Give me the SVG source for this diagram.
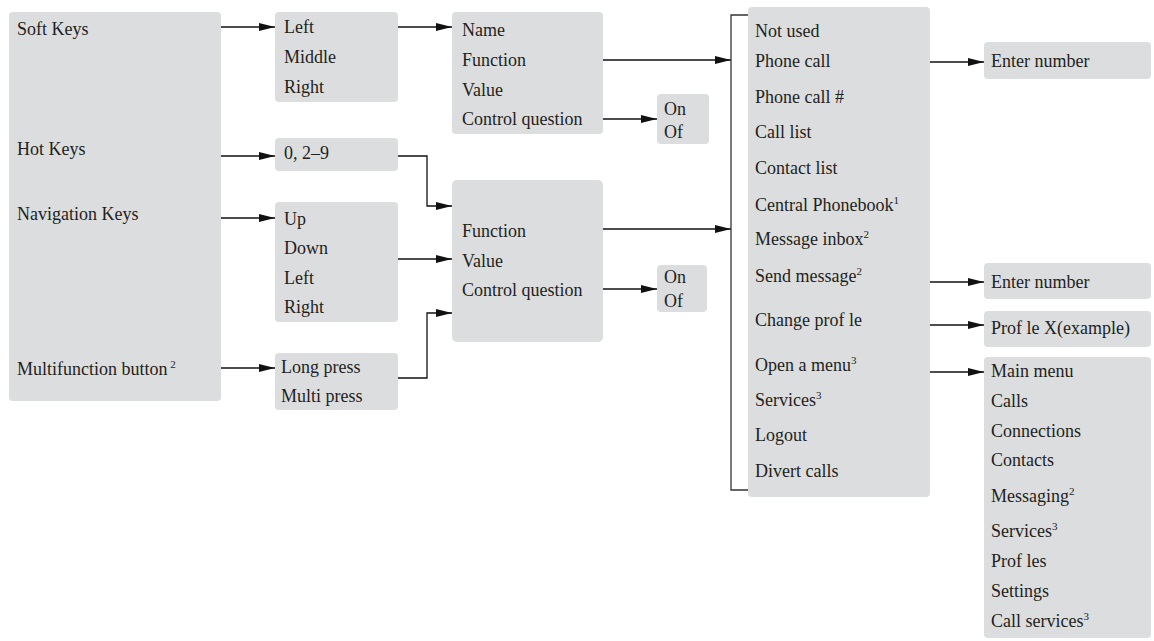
<svg xmlns="http://www.w3.org/2000/svg" width="1154" height="641" viewBox="0 0 1154 641">
<style>
.box{fill:#dcdddf}
text{font-family:"Liberation Serif","Times New Roman",serif;font-size:18px;fill:#231f20}
.sup{font-size:11px}
.ln{fill:none;stroke:#111;stroke-width:1.3}
.br{fill:none;stroke:#333;stroke-width:1.3}
</style>
<defs>
<marker id="ah" markerUnits="userSpaceOnUse" markerWidth="17" markerHeight="10" refX="16" refY="5" orient="auto">
<path d="M0,1 L16,5 L0,9 Z" fill="#111"/>
</marker>
</defs>
<rect width="1154" height="641" fill="#fff"/>

<g id="keys">
<rect class="box" x="9" y="12" width="212" height="389" rx="4"/>
<text x="17" y="35">Soft Keys</text>
<text x="17" y="155">Hot Keys</text>
<text x="17" y="220">Navigation Keys</text>
<text x="17" y="375">Multifunction button<tspan class="sup" dy="-7"> 2</tspan></text>
</g>

<g id="softkeys">
<rect class="box" x="275" y="12" width="123" height="90" rx="4"/>
<text x="284" y="33">Left</text>
<text x="284" y="63">Middle</text>
<text x="284" y="93">Right</text>
</g>

<g id="hotkeys">
<rect class="box" x="275" y="138" width="123" height="33" rx="4"/>
<text x="284" y="159">0, 2–9</text>
</g>

<g id="navkeys">
<rect class="box" x="275" y="202" width="123" height="120" rx="4"/>
<text x="284" y="225">Up</text>
<text x="284" y="254">Down</text>
<text x="284" y="284">Left</text>
<text x="284" y="313">Right</text>
</g>

<g id="multi">
<rect class="box" x="275" y="353" width="123" height="57" rx="4"/>
<text x="281" y="373">Long press</text>
<text x="281" y="402">Multi press</text>
</g>

<g id="softprops">
<rect class="box" x="452" y="12" width="151" height="122" rx="4"/>
<text x="462" y="36">Name</text>
<text x="462" y="66">Function</text>
<text x="462" y="96">Value</text>
<text x="462" y="125">Control question</text>
</g>

<g id="onoff1">
<rect class="box" x="657" y="94" width="52" height="50" rx="4"/>
<text x="664" y="115">On</text>
<text x="664" y="138">Of</text>
</g>

<g id="keyprops">
<rect class="box" x="452" y="180" width="151" height="162" rx="5"/>
<text x="462" y="237">Function</text>
<text x="462" y="267">Value</text>
<text x="462" y="296">Control question</text>
</g>

<g id="onoff2">
<rect class="box" x="657" y="265" width="50" height="47" rx="4"/>
<text x="664" y="283">On</text>
<text x="664" y="307">Of</text>
</g>

<g id="functions">
<rect class="box" x="748" y="7" width="182" height="490" rx="4"/>
<text x="755" y="37">Not used</text>
<text x="755" y="67">Phone call</text>
<text x="755" y="103">Phone call #</text>
<text x="755" y="138">Call list</text>
<text x="755" y="174">Contact list</text>
<text x="755" y="211">Central Phonebook<tspan class="sup" dy="-7">1</tspan></text>
<text x="755" y="245">Message inbox<tspan class="sup" dy="-7">2</tspan></text>
<text x="755" y="282">Send message<tspan class="sup" dy="-7">2</tspan></text>
<text x="755" y="326">Change prof le</text>
<text x="755" y="371">Open a menu<tspan class="sup" dy="-7">3</tspan></text>
<text x="755" y="406">Services<tspan class="sup" dy="-7">3</tspan></text>
<text x="755" y="441">Logout</text>
<text x="755" y="477">Divert calls</text>
</g>

<g id="enter1">
<rect class="box" x="984" y="42" width="167" height="37" rx="4"/>
<text x="991" y="67">Enter number</text>
</g>

<g id="enter2">
<rect class="box" x="984" y="263" width="167" height="36" rx="4"/>
<text x="991" y="288">Enter number</text>
</g>

<g id="profile">
<rect class="box" x="984" y="311" width="167" height="36" rx="4"/>
<text x="991" y="334">Prof le X(example)</text>
</g>

<g id="menus">
<rect class="box" x="984" y="357" width="167" height="281" rx="4"/>
<text x="991" y="377">Main menu</text>
<text x="991" y="407">Calls</text>
<text x="991" y="437">Connections</text>
<text x="991" y="466">Contacts</text>
<text x="991" y="502">Messaging<tspan class="sup" dy="-7">2</tspan></text>
<text x="991" y="537">Services<tspan class="sup" dy="-7">3</tspan></text>
<text x="991" y="567">Prof les</text>
<text x="991" y="597">Settings</text>
<text x="991" y="627">Call services<tspan class="sup" dy="-7">3</tspan></text>
</g>

<g id="connectors">
<path class="ln" d="M221,27 H275" marker-end="url(#ah)"/>
<path class="ln" d="M221,156 H275" marker-end="url(#ah)"/>
<path class="ln" d="M221,218 H275" marker-end="url(#ah)"/>
<path class="ln" d="M221,368 H275" marker-end="url(#ah)"/>
<path class="ln" d="M398,27 H452" marker-end="url(#ah)"/>
<path class="ln" d="M398,156 H427 V206 H452" marker-end="url(#ah)"/>
<path class="ln" d="M398,259 H452" marker-end="url(#ah)"/>
<path class="ln" d="M398,378 H427 V313 H452" marker-end="url(#ah)"/>
<path class="ln" d="M603,119 H657" marker-end="url(#ah)"/>
<path class="ln" d="M603,289 H657" marker-end="url(#ah)"/>
<path class="ln" d="M603,60 H731" marker-end="url(#ah)"/>
<path class="ln" d="M603,229 H731" marker-end="url(#ah)"/>
<path class="br" d="M748,15 H731 V490 H748"/>
<path class="ln" d="M930,62 H984" marker-end="url(#ah)"/>
<path class="ln" d="M930,282 H984" marker-end="url(#ah)"/>
<path class="ln" d="M930,325 H984" marker-end="url(#ah)"/>
<path class="ln" d="M930,372 H984" marker-end="url(#ah)"/>
</g>
</svg>
